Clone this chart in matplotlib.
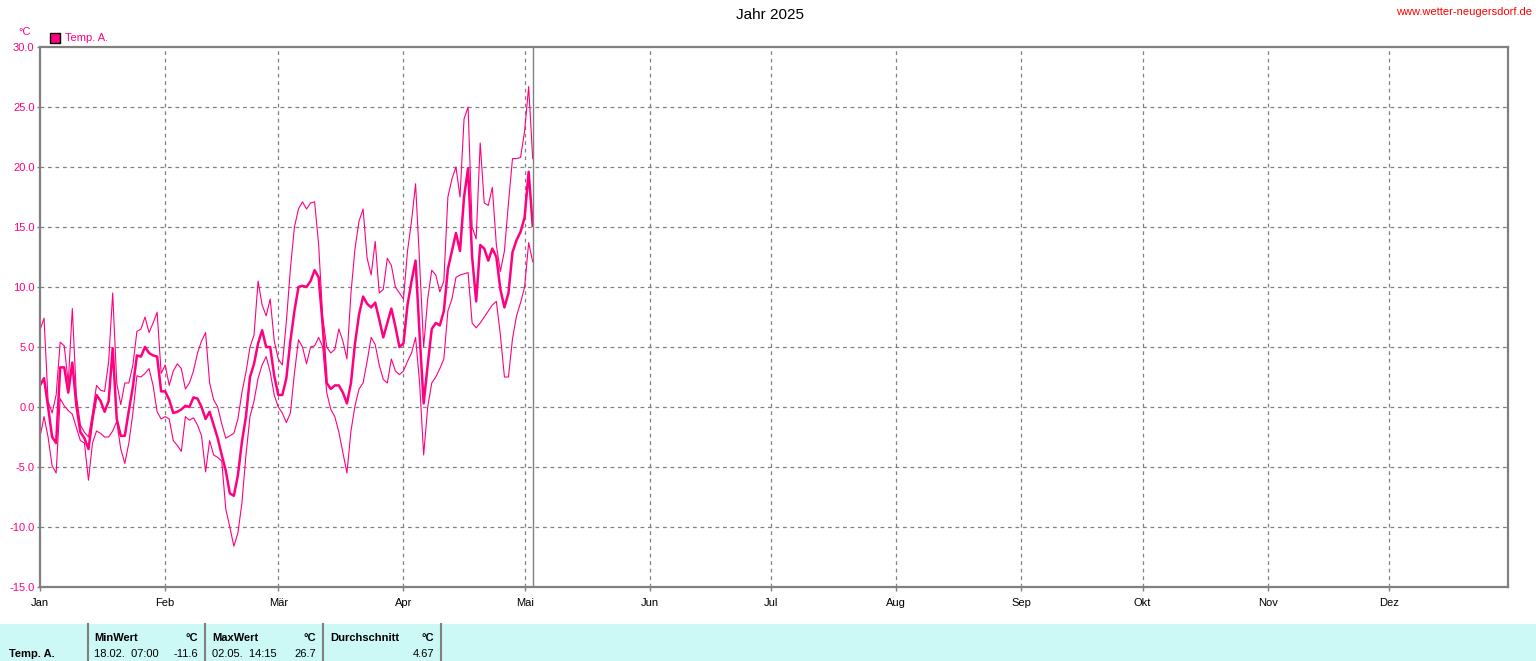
import numpy as np
import matplotlib
matplotlib.use('Agg')
import matplotlib.pyplot as plt
from matplotlib.patches import Rectangle

plt.rcParams['font.family'] = ['Liberation Sans', 'DejaVu Sans']

# daily values Jan 1 .. May 3 2025
t_max = [6.4, 7.4, 0.5, -0.5, 1.0, 5.4, 5.1, 2.0, 8.2, 1.0,
         -1.5, -2.1, -2.5, -0.5, 1.8, 1.4, 1.3, 3.8, 9.5, 2.0,
         0.2, 2.0, 2.0, 3.5, 6.3, 6.5, 7.5, 6.2, 7.0, 7.9,
         2.8, 3.5, 1.8, 3.0, 3.6, 3.2, 1.5, 2.0, 3.0, 4.5,
         5.5, 6.2, 2.0, 0.6, 0.0, -1.4, -2.6, -2.4, -2.2, -1.0,
         1.2, 2.9, 5.0, 6.0, 10.5, 8.5, 7.6, 9.0, 5.5, 4.0,
         3.5, 7.1, 11.5, 15.0, 16.5, 17.1, 16.5, 17.0, 17.1, 13.5,
         7.5, 5.0, 4.5, 4.8, 6.5, 5.5, 4.0, 9.5, 13.2, 15.5,
         16.5, 12.4, 11.0, 13.8, 9.5, 9.8, 12.4, 11.8, 10.0, 9.5,
         9.0, 13.0, 15.5, 18.6, 12.0, 5.0, 9.0, 11.4, 11.0, 9.6,
         10.5, 17.5, 19.0, 20.0, 17.5, 24.0, 25.0, 15.0, 14.0, 22.0,
         17.0, 16.8, 18.3, 13.5, 11.3, 13.0, 17.0, 20.7, 20.7, 20.8,
         23.0, 26.7, 20.7]

t_mean = [1.8, 2.4, 0.0, -2.5, -3.0, 3.3, 3.3, 1.2, 3.7, 0.1,
          -2.1, -2.6, -3.5, -1.0, 1.0, 0.5, -0.4, 0.5, 4.9, -1.0,
          -2.4, -2.4, -0.3, 1.7, 4.3, 4.2, 5.0, 4.5, 4.3, 4.2,
          1.3, 1.3, 0.6, -0.5, -0.4, -0.2, 0.1, 0.0, 0.8, 0.7,
          0.0, -1.0, -0.4, -1.5, -2.6, -4.0, -5.3, -7.2, -7.4, -5.7,
          -2.9, -0.8, 2.5, 3.6, 5.3, 6.4, 5.0, 5.0, 2.6, 1.0,
          1.0, 2.4, 5.5, 8.0, 10.0, 10.1, 10.0, 10.5, 11.4, 10.8,
          6.8, 2.0, 1.5, 1.8, 1.8, 1.2, 0.3, 2.0, 5.3, 7.7,
          9.2, 8.6, 8.3, 8.7, 7.3, 5.8, 7.0, 8.2, 6.7, 5.0,
          5.3, 8.5, 10.5, 12.2, 6.0, 0.3, 3.5, 6.5, 7.0, 6.8,
          8.0, 11.5, 13.0, 14.5, 13.0, 17.5, 19.9, 12.5, 8.8, 13.5,
          13.2, 12.2, 13.2, 12.5, 9.8, 8.3, 9.5, 12.9, 13.9, 14.6,
          15.8, 19.6, 15.1]

t_min = [-2.5, -0.8, -2.5, -4.9, -5.5, 0.7, 0.1, -0.3, -0.6, -1.7,
         -2.8, -3.0, -6.1, -3.0, -2.0, -2.2, -2.5, -2.5, -2.0, -1.2,
         -3.5, -4.7, -3.0, -0.5, 2.6, 2.5, 2.8, 3.2, 1.8, -0.4,
         -1.0, -0.8, -1.0, -2.8, -3.2, -3.7, -0.8, -1.1, -0.9, -1.5,
         -2.4, -5.4, -2.8, -4.0, -4.2, -4.5, -8.5, -10.0, -11.6, -10.5,
         -8.0, -4.0, -0.8, 0.5, 2.4, 3.5, 4.2, 2.9, 1.0, 0.0,
         -0.5, -1.3, -0.5, 2.8, 5.6, 5.0, 3.6, 5.0, 5.1, 5.8,
         5.0, 1.2, -0.2, -0.8, -2.1, -3.8, -5.5, -2.0, 0.1, 1.5,
         2.0, 3.8, 5.8, 5.2, 3.5, 2.3, 2.0, 4.0, 3.0, 2.7,
         3.0, 3.8, 4.5, 5.8, 2.0, -4.0, 0.0, 2.0, 2.5, 3.2,
         4.0, 8.0, 9.0, 10.8, 11.0, 11.1, 11.2, 7.0, 6.6, 7.0,
         7.5, 8.0, 8.5, 8.8, 6.0, 2.5, 2.5, 5.7, 7.6, 8.7,
         10.0, 13.7, 12.1]

months = ['Jan', 'Feb', 'Mär', 'Apr', 'Mai', 'Jun', 'Jul', 'Aug', 'Sep', 'Okt', 'Nov', 'Dez']
month_start = [0, 31, 59, 90, 120, 151, 181, 212, 243, 273, 304, 334]
now_day = 122.1

table_head = ['MinWert', 'MaxWert', 'Durchschnitt']
table_vals = [('18.02.  07:00', '-11.6'), ('02.05.  14:15', '26.7'), ('', '4.67')]

PINK = '#ff0080'
GRAY = '#808080'
W, H = 1536, 661
FS = 8

fig = plt.figure(figsize=(W / 100, H / 100), dpi=100)
ax = fig.add_axes([40 / W, 1 - 587 / H, 1468 / W, 540 / H])

days = np.arange(len(t_mean))
ax.plot(days, t_max, color=PINK, lw=0.8)
ax.plot(days, t_min, color=PINK, lw=0.8)
ax.plot(days, t_mean, color=PINK, lw=1.8)
ax.axvline(now_day, color=GRAY, lw=1)

ax.set_xlim(0, 363.5)
ax.set_ylim(-15, 30)
yt = np.arange(-15, 31, 5)
ax.set_yticks(yt)
ax.set_yticklabels([f'{v:.1f}' for v in yt], color=PINK, fontsize=FS)
ax.set_xticks(month_start)
ax.set_xticklabels(months, fontsize=FS)
ax.tick_params(axis='y', length=2.5, width=1, color=GRAY, pad=1.5)
ax.tick_params(axis='x', length=3, width=1, color=GRAY, pad=5)

for v in yt[1:-1]:
    ax.axhline(v, color=GRAY, lw=0.9, ls=(0, (3, 3)), zorder=0)
for m in month_start[1:]:
    ax.axvline(m, color=GRAY, lw=0.9, ls=(0, (3, 3)), zorder=0)

for s in ax.spines.values():
    s.set_color(GRAY)
    s.set_linewidth(1.6)

# header
fig.text(770 / W, 1 - 15 / H, 'Jahr 2025', ha='center', va='center', fontsize=11)
fig.text(1532 / W, 1 - 12 / H, 'www.wetter-neugersdorf.de', ha='right', va='center',
         fontsize=FS, color='red')
fig.text(25 / W, 1 - 32 / H, '°C', ha='center', va='center', fontsize=FS, color=PINK)
fig.patches.append(Rectangle((50 / W, 1 - 43 / H), 10 / W, 10 / H, transform=fig.transFigure,
                             facecolor=PINK, edgecolor='black', lw=1))
fig.text(65 / W, 1 - 38 / H, 'Temp. A.', ha='left', va='center', fontsize=FS, color=PINK)

# statistics table
fig.patches.append(Rectangle((0, 0), 1, 37 / H, transform=fig.transFigure,
                             facecolor='#ccf8f6', edgecolor='none'))
for xs in [88, 205, 323, 441]:
    fig.add_artist(plt.Line2D([xs / W, xs / W], [0, 37 / H], color=GRAY, lw=1.5))
fig.text(9 / W, 1 - 654 / H, 'Temp. A.', ha='left', va='center', fontsize=FS, weight='bold')
col_left = [94, 212, 330]
col_right = [198, 316, 434]
for head, (when, val), xl, xr in zip(table_head, table_vals, col_left, col_right):
    fig.text(xl / W, 1 - 638 / H, head, ha='left', va='center', fontsize=FS, weight='bold')
    fig.text(xr / W, 1 - 638 / H, '°C', ha='right', va='center', fontsize=FS, weight='bold')
    fig.text(xl / W, 1 - 654 / H, when, ha='left', va='center', fontsize=FS)
    fig.text(xr / W, 1 - 654 / H, val, ha='right', va='center', fontsize=FS)

fig.savefig('out.png', dpi=100)
